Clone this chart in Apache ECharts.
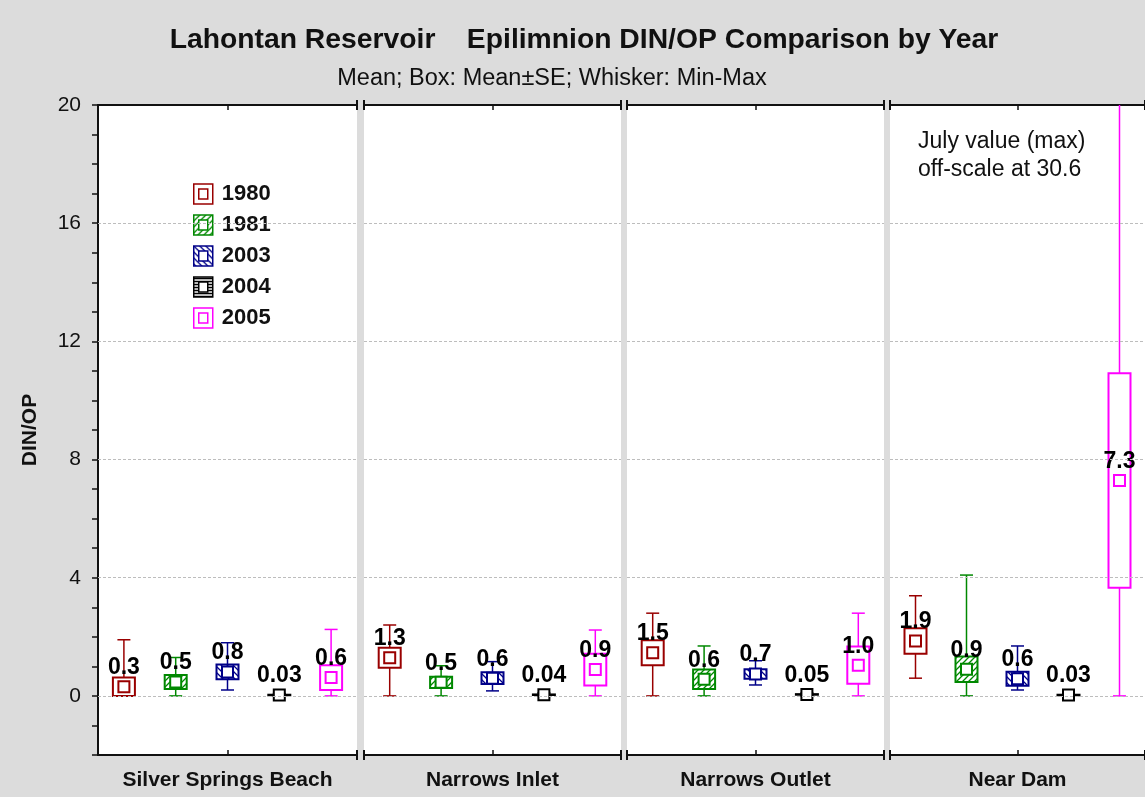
<!DOCTYPE html>
<html>
<head>
<meta charset="utf-8">
<title>Lahontan Reservoir - Epilimnion DIN/OP</title>
<script src="https://cdn.jsdelivr.net/npm/echarts@6/dist/echarts.min.js"></script>
<style>
  html, body { margin: 0; padding: 0; background: #dcdcdc; }
  #chart { width: 1145px; height: 797px; }
</style>
</head>
<body>
<div id="chart"></div>
<script>
const sites = ['Silver Springs Beach', 'Narrows Inlet', 'Narrows Outlet', 'Near Dam'];
const years = ['1980', '1981', '2003', '2004', '2005'];

// one value per site, in the order of `sites`
const mean1980 = [0.31, 1.29, 1.46, 1.86];
const se1980 = [0.31, 0.34, 0.42, 0.43];
const min1980 = [0, 0, 0, 0.60];
const max1980 = [1.90, 2.40, 2.80, 3.39];

const mean1981 = [0.47, 0.46, 0.56, 0.90];
const se1981 = [0.24, 0.19, 0.33, 0.43];
const min1981 = [0, 0, 0, 0];
const max1981 = [1.30, 1.02, 1.69, 4.09];

const mean2003 = [0.81, 0.60, 0.74, 0.58];
const se2003 = [0.25, 0.20, 0.16, 0.24];
const min2003 = [0.20, 0.17, 0.37, 0.20];
const max2003 = [1.80, 1.16, 1.19, 1.69];

const mean2004 = [0.03, 0.04, 0.05, 0.03];
const se2004 = [0.01, 0.01, 0.01, 0.01];
const min2004 = [0, 0, 0, 0];
const max2004 = [0.08, 0.10, 0.10, 0.08];

const mean2005 = [0.62, 0.89, 1.04, 7.29];
const se2005 = [0.42, 0.54, 0.63, 3.63];
const min2005 = [0, 0, 0, 0];
const max2005 = [2.25, 2.23, 2.80, 30.6];

const yTickLabels = [0, 4, 8, 12, 16, 20];
const gridLineValues = [0, 4, 8, 12, 16];

const means = [mean1980, mean1981, mean2003, mean2004, mean2005];
const ses = [se1980, se1981, se2003, se2004, se2005];
const mins = [min1980, min1981, min2003, min2004, min2005];
const maxs = [max1980, max1981, max2003, max2004, max2005];

const yearColors = ['#990000', '#008800', '#000088', '#000000', '#ff00ff'];
const hatchKinds = [null, '/', '\\', '-', null];

const FONT = '"Liberation Sans", Arial, Helvetica, sans-serif';
const panelLeft = [98, 364, 627, 890];
const panelWidth = [259, 257, 257, 257];

function makeHatch(color, kind) {
  if (!kind) return '#ffffff';
  const c = document.createElement('canvas');
  c.width = 6; c.height = 6;
  const ctx = c.getContext('2d');
  ctx.fillStyle = '#ffffff';
  ctx.fillRect(0, 0, 6, 6);
  ctx.strokeStyle = color;
  ctx.lineWidth = 1.3;
  ctx.beginPath();
  if (kind === '/') {
    ctx.moveTo(-1, 7); ctx.lineTo(7, -1);
    ctx.moveTo(-1, 1); ctx.lineTo(1, -1);
    ctx.moveTo(5, 7); ctx.lineTo(7, 5);
  } else if (kind === '\\') {
    ctx.moveTo(-1, -1); ctx.lineTo(7, 7);
    ctx.moveTo(5, -1); ctx.lineTo(7, 1);
    ctx.moveTo(-1, 5); ctx.lineTo(1, 7);
  } else {
    ctx.moveTo(0, 1.5); ctx.lineTo(6, 1.5);
    ctx.moveTo(0, 4.5); ctx.lineTo(6, 4.5);
  }
  ctx.stroke();
  return { image: c, repeat: 'repeat' };
}

const boxFills = yearColors.map((c, i) => makeHatch(c, hatchKinds[i]));

function fmtMean(v) {
  return v < 0.1 ? v.toFixed(2) : v.toFixed(1);
}

function renderBox(params, api) {
  const k = api.value(0);
  const mean = api.value(1);
  const se = api.value(2);
  const lo = api.value(3);
  const hi = api.value(4);
  const color = yearColors[k];
  const cs = params.coordSys;

  const pMean = api.coord([k, mean]);
  const cx = pMean[0];
  const yBoxTop = api.coord([k, mean + se])[1];
  const yBoxBot = api.coord([k, mean - se])[1];
  let yHi = api.coord([k, hi])[1];
  const offScale = yHi < cs.y;
  if (offScale) yHi = cs.y;
  const yLo = api.coord([k, lo])[1];

  const whisker = { stroke: color, lineWidth: 1.5 };
  const children = [
    { type: 'line', shape: { x1: cx, y1: yBoxTop, x2: cx, y2: yHi }, style: whisker },
    { type: 'line', shape: { x1: cx, y1: yBoxBot, x2: cx, y2: yLo }, style: whisker },
    { type: 'line', shape: { x1: cx - 6.5, y1: yLo, x2: cx + 6.5, y2: yLo }, style: whisker }
  ];
  if (!offScale) {
    children.push({ type: 'line', shape: { x1: cx - 6.5, y1: yHi, x2: cx + 6.5, y2: yHi }, style: whisker });
  }
  children.push({
    type: 'rect',
    shape: { x: cx - 11, y: yBoxTop, width: 22, height: yBoxBot - yBoxTop },
    style: { fill: boxFills[k], stroke: color, lineWidth: 2 }
  });
  children.push({
    type: 'rect',
    shape: { x: cx - 5.5, y: pMean[1] - 5.5, width: 11, height: 11 },
    style: { fill: '#ffffff', stroke: color, lineWidth: 2 }
  });
  children.push({
    type: 'text',
    x: cx,
    y: pMean[1] - 19,
    style: {
      text: fmtMean(mean),
      fill: '#000',
      font: 'bold 23px ' + FONT,
      align: 'center',
      verticalAlign: 'middle'
    }
  });
  return { type: 'group', children: children };
}

const grids = [];
const xAxes = [];
const yAxes = [];
const series = [];

sites.forEach((site, g) => {
  grids.push({
    left: panelLeft[g],
    width: panelWidth[g],
    top: 105,
    bottom: 42,
    show: true,
    backgroundColor: '#ffffff',
    borderWidth: 0
  });

  const centerTick = {
    show: true,
    inside: true,
    alignWithLabel: true,
    length: 5,
    interval: (i) => i === 2,
    lineStyle: { color: '#111', width: 1.5 }
  };
  const baseLine = { show: true, onZero: false, lineStyle: { color: '#111', width: 2 } };

  // bottom axis with site name
  xAxes.push({
    type: 'category', gridIndex: g, data: years, position: 'bottom',
    axisLine: baseLine, axisTick: centerTick,
    axisLabel: { show: false }, splitLine: { show: false },
    name: site, nameLocation: 'middle', nameGap: 15,
    nameTextStyle: { color: '#111', fontFamily: FONT, fontWeight: 'bold', fontSize: 21 }
  });
  // top frame axis
  xAxes.push({
    type: 'category', gridIndex: g, data: years, position: 'top',
    axisLine: baseLine, axisTick: centerTick,
    axisLabel: { show: false }, splitLine: { show: false }
  });
  // break marks at the panel edges (not at the y-axis corner)
  ['bottom', 'top'].forEach((pos) => {
    const tick = { show: true, length: 10, lineStyle: { color: '#111', width: 2 } };
    if (g === 0) tick.customValues = [1];
    xAxes.push({
      type: 'value', gridIndex: g, position: pos, min: 0, max: 1, interval: 1,
      offset: -5,
      axisLine: { show: false, onZero: false },
      axisTick: tick,
      axisLabel: { show: false }, splitLine: { show: false }
    });
  });

  yAxes.push({
    type: 'value', gridIndex: g, min: -2, max: 20, interval: 1,
    show: g === 0,
    axisLine: { show: true, onZero: false, lineStyle: { color: '#111', width: 2 } },
    axisTick: { show: true, length: 6, lineStyle: { color: '#111', width: 1.5 } },
    axisLabel: {
      color: '#111', fontFamily: FONT, fontSize: 21, margin: 17,
      formatter: (v) => (yTickLabels.indexOf(v) >= 0 ? String(v) : '')
    },
    splitLine: { show: false },
    name: g === 0 ? 'DIN/OP' : '', nameLocation: 'middle', nameGap: 57,
    nameTextStyle: { color: '#111', fontFamily: FONT, fontWeight: 'bold', fontSize: 21 }
  });

  series.push({
    type: 'line', xAxisIndex: g * 4, yAxisIndex: g, data: [], silent: true, z: 1,
    markLine: {
      silent: true, symbol: 'none', animation: false,
      label: { show: false },
      lineStyle: { color: '#bdbdbd', type: [3, 2], width: 1 },
      data: gridLineValues.map((v) => ({ yAxis: v }))
    }
  });

  years.forEach((yr, k) => {
    series.push({
      name: yr,
      type: 'custom',
      xAxisIndex: g * 4,
      yAxisIndex: g,
      z: 3,
      itemStyle: { color: yearColors[k] },
      encode: { x: 0, y: 1 },
      renderItem: renderBox,
      data: [[k, means[k][g], ses[k][g], mins[k][g], maxs[k][g]]]
    });
  });
});

const chart = echarts.init(document.getElementById('chart'));
chart.setOption({
  animation: false,
  backgroundColor: '#dcdcdc',
  title: [
    {
      text: 'Lahontan Reservoir    Epilimnion DIN/OP Comparison by Year',
      left: 579, top: 21, textAlign: 'center',
      textStyle: { color: '#111', fontFamily: FONT, fontWeight: 'bold', fontSize: 28.3 }
    },
    {
      text: 'Mean; Box: Mean\u00b1SE; Whisker: Min-Max',
      left: 547, top: 62, textAlign: 'center',
      textStyle: { color: '#111', fontFamily: FONT, fontWeight: 'normal', fontSize: 23.5 }
    }
  ],
  legend: {
    orient: 'vertical',
    left: 193,
    top: 183,
    padding: 0,
    itemWidth: 19,
    itemHeight: 20,
    itemGap: 9,
    selectedMode: false,
    textStyle: { color: '#111', fontFamily: FONT, fontWeight: 'bold', fontSize: 22, padding: [0, 0, 0, 4] },
    data: years.map((yr, k) => ({
      name: yr,
      icon: 'path://M0,0H19V20H0ZM5,5V15H14V5Z',
      itemStyle: { color: boxFills[k], borderColor: yearColors[k], borderWidth: 1.5 }
    }))
  },
  graphic: [
    {
      type: 'text',
      left: 918,
      top: 128,
      style: {
        text: 'July value (max)\noff-scale at 30.6',
        fill: '#111',
        font: '23px ' + FONT,
        lineHeight: 28
      }
    }
  ],
  grid: grids,
  xAxis: xAxes,
  yAxis: yAxes,
  series: series
});
</script>
</body>
</html>
